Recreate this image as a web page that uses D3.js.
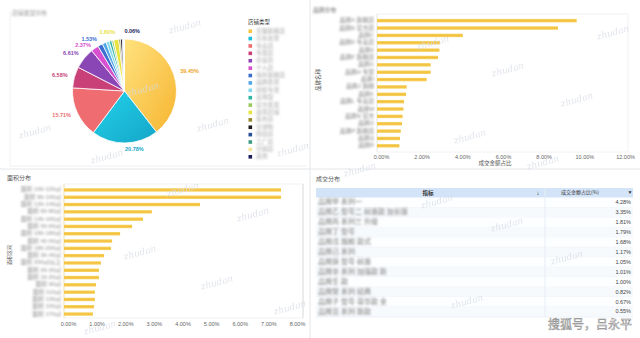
<!DOCTYPE html>
<html><head><meta charset="utf-8">
<script src="https://cdn.jsdelivr.net/npm/d3@7/dist/d3.min.js"></script>
<style>
html,body{margin:0;padding:0;background:#fff;}
svg{display:block;font-family:"Liberation Sans","Noto Sans CJK SC",sans-serif;}
</style></head>
<body><svg id="c" width="640" height="338"></svg>
<script>
// ---------- data ----------
const pieNames = ["天猫旗舰店","京东自营","专卖店","专营店","企业店","个人店","海外旗舰店","品牌直营","授权专营","卖场型","官方直营","自营店铺","集市店","全球购","跨境店","工厂店","分销店","其他"];
const pieValues = [39.45,20.78,15.71,6.58,6.61,2.37,1.53,1.2,1.0,0.8,0.6,1.60,0.5,0.6,0.3,0.2,0.1,0.06];
const pieColors = ["#f9c43f","#1bbcd8","#ef6c70","#c93f78","#8b46b5","#d850cf","#3c6fd0","#4fa7e6","#82d8ea","#2cb4a4","#9ac95a","#e9e33e","#9a8a2e","#1c1c1c","#274f98","#3f9c86","#f4e49a","#1d1f5c"];
const pieLabelShown = [1,1,1,1,1,1,1,0,0,0,0,1,0,0,0,0,0,1];

const topCats = ["品牌A 旗舰店","品牌B 官方店","品牌C","品牌D 专卖店","品牌E","品牌F 旗舰店","品牌G","品牌H 专营","品牌I","品牌J 旗舰","品牌K","品牌L 专卖店","品牌M","品牌N 官方","品牌O","品牌P 旗舰店","品牌Q","品牌R"];
const topValues = [9.82,8.90,4.22,3.10,3.07,3.00,2.64,2.64,2.44,1.46,1.43,1.33,1.30,1.26,1.23,1.17,1.13,1.10];
const topTicks = [0,2,4,6,8,10,12];

const botCats = ["面积 100-120㎡","面积 80-100㎡","面积 120-140㎡","面积 60-80㎡","面积 140-160㎡","面积 50-60㎡","面积 160-180㎡","面积 40-50㎡","面积 180-200㎡","面积 30-40㎡","面积 200㎡以上","面积 20-30㎡","面积 10-20㎡","面积 90㎡","面积 110㎡","面积 130㎡","面积 150㎡","面积 170㎡"];
const botValues = [7.58,7.58,4.75,3.07,2.76,2.38,1.96,1.68,1.64,1.40,1.29,1.22,1.22,1.12,1.08,1.08,1.05,1.01];
const botTicks = [0,1,2,3,4,5,6,7,8];

const tableNames = ["品牌甲 系列一","品牌乙 型号二 标准款 加长版","品牌丙 系列三 升级","品牌丁 型号","品牌戊 旗舰 款式","品牌己 系列","品牌庚 型号 标准","品牌辛 系列 加强款 新","品牌壬 款","品牌癸 系列 经典","品牌子 型号 豪华款 全","品牌丑 系列 新款"];
const tableValues = [4.28,3.35,1.81,1.79,1.68,1.17,1.05,1.01,1.00,0.82,0.67,0.55];

// ---------- setup ----------
const svg = d3.select("#c");
const defs = svg.append("defs");
defs.append("filter").attr("id","blur").attr("x","-20%").attr("y","-50%").attr("width","140%").attr("height","200%")
  .append("feGaussianBlur").attr("stdDeviation",1.3);
const g1 = defs.append("linearGradient").attr("id","gY").attr("x1","0").attr("y1","0").attr("x2","1").attr("y2","1");
g1.append("stop").attr("offset","0").attr("stop-color","#ffe27e");
g1.append("stop").attr("offset","1").attr("stop-color","#f6b531");
const g2 = defs.append("linearGradient").attr("id","gC").attr("x1","0").attr("y1","0").attr("x2","1").attr("y2","1");
g2.append("stop").attr("offset","0").attr("stop-color","#22d3ea");
g2.append("stop").attr("offset","1").attr("stop-color","#15a5c8");
const gb = defs.append("linearGradient").attr("id","gBar").attr("x1","0").attr("y1","0").attr("x2","0").attr("y2","1");
gb.append("stop").attr("offset","0").attr("stop-color","#f8d66a");
gb.append("stop").attr("offset","0.5").attr("stop-color","#f2bf3a");
gb.append("stop").attr("offset","1").attr("stop-color","#f8d66a");

svg.append("rect").attr("width",640).attr("height",338).attr("fill","#fff");

// panel dividers
svg.append("line").attr("x1",310).attr("x2",310).attr("y1",0).attr("y2",338).attr("stroke","#e4e6ea");
svg.append("line").attr("x1",0).attr("x2",640).attr("y1",169).attr("y2",169).attr("stroke","#e4e6ea");
svg.append("line").attr("x1",10).attr("x2",10).attr("y1",12).attr("y2",166).attr("stroke","#f0f1f3");
svg.append("line").attr("x1",10).attr("x2",306).attr("y1",166).attr("y2",166).attr("stroke","#eef0f2");

// blurred (mosaic-like) text helper
function blurText(sel, x, y, txt, opts={}) {
  return sel.append("text").attr("x",x).attr("y",y).text(txt)
    .attr("font-size",opts.size||5.8).attr("fill",opts.fill||"#9a9a9a")
    .attr("text-anchor",opts.anchor||"start").attr("dominant-baseline","middle")
    .attr("font-family","Liberation Sans, Noto Sans CJK SC").attr("font-weight",700)
    .attr("filter","url(#blur)");
}

// ---------- panel titles ----------
blurText(svg,12,13,"店铺类型分布",{size:5.8,fill:"#b8b8b8"});
blurText(svg,313,10,"品牌分布",{size:5.8,fill:"#9a9a9a"});
svg.append("text").attr("x",7).attr("y",178).text("面积分布").attr("font-size",6).attr("fill","#555")
  .attr("font-family","Noto Sans CJK SC").attr("dominant-baseline","middle");
svg.append("text").attr("x",316).attr("y",179).text("成交分布").attr("font-size",6).attr("fill","#555")
  .attr("font-family","Noto Sans CJK SC").attr("dominant-baseline","middle");

// ---------- pie ----------
const cx=124.5, cy=91, R=52;
const pie = d3.pie().sort(null).value(d=>d)(pieValues);
const arc = d3.arc().innerRadius(0).outerRadius(R);
const pg = svg.append("g").attr("transform",`translate(${cx},${cy})`);
pg.selectAll("path").data(pie).join("path")
  .attr("d",arc)
  .attr("fill",(d,i)=> i===0?"url(#gY)": i===1?"url(#gC)": pieColors[i])
  .attr("stroke","#fff").attr("stroke-width",0.8);
const labelArc = d3.arc().innerRadius(R+7).outerRadius(R+7);
const labelColors = pieColors.map((c,i)=> i===0?"#f0a62a": i===1?"#17a7c6": c);
const labs = pie.filter((d,i)=>pieLabelShown[i]).map(d=>{
  const [x,y]=labelArc.centroid(d);
  return {d, x, y, left: x < -0.6};
});
// simple overlap avoidance for left-side labels (top to bottom)
const leftLabs = labs.filter(l=>l.left).sort((a,b)=>a.y-b.y);
for (let k=1;k<leftLabs.length;k++) leftLabs[k].y = Math.max(leftLabs[k].y, leftLabs[k-1].y+6.5);
pg.selectAll("text").data(labs).join("text")
  .attr("x",l=>l.x).attr("y",l=>l.y)
  .attr("text-anchor",l=>l.left?"end":"start")
  .attr("dominant-baseline","middle")
  .attr("font-size",5.5).attr("font-weight",700)
  .attr("fill",l=>labelColors[l.d.index])
  .text(l=>d3.format(".2f")(l.d.data)+"%");

// legend
svg.append("text").attr("x",248).attr("y",22).text("店铺类型").attr("font-size",5.5).attr("fill","#333")
  .attr("font-family","Noto Sans CJK SC").attr("dominant-baseline","middle");
const leg = d3.scaleBand().domain(d3.range(pieNames.length)).range([27.5,160.5]);
const lg = svg.append("g");
pieNames.forEach((n,i)=>{
  const y = leg(i)+leg.bandwidth()/2;
  lg.append("rect").attr("x",248.5).attr("y",y-1.8).attr("width",3.6).attr("height",3.6).attr("fill",pieColors[i]);
  blurText(lg,256,y,n,{fill:"#c4c4c4"});
});

// ---------- top-right bar ----------
const xT = d3.scaleLinear().domain([0,12]).range([377,621]);
const yT = d3.scaleBand().domain(topCats).range([17,149.5]).paddingInner(0.52).paddingOuter(0.26);
const tr = svg.append("g");
tr.append("rect").attr("x",377).attr("y",14).attr("width",251).attr("height",138).attr("fill","none").attr("stroke","#f2f2f2");
tr.append("line").attr("x1",377).attr("x2",377).attr("y1",14).attr("y2",152).attr("stroke","#ececec");
tr.selectAll("rect.bar").data(topValues).join("rect").attr("class","bar")
  .attr("x",xT(0)).attr("y",(d,i)=>yT(topCats[i])).attr("height",yT.bandwidth())
  .attr("width",d=>xT(d)-xT(0)).attr("fill","url(#gBar)");
topCats.forEach((c,i)=> blurText(tr,374,yT(c)+yT.bandwidth()/2,c,{anchor:"end",fill:"#a9a9a9"}));
const axT = d3.axisBottom(xT).tickValues(topTicks).tickFormat(d=>d3.format(".2f")(d)+"%").tickSize(0);
const axTg = tr.append("g").attr("transform","translate(4,153)").call(axT);
axTg.select(".domain").remove();
axTg.selectAll("text").attr("font-size",5.5).attr("fill","#666").attr("dy","0.5em");
tr.append("text").attr("x",495).attr("y",163).attr("text-anchor","middle").attr("dominant-baseline","middle")
  .attr("font-size",5.5).attr("fill","#555").attr("font-family","Noto Sans CJK SC").text("成交金额占比");
tr.append("text").attr("transform","translate(318,80) rotate(-90)").attr("text-anchor","middle").attr("dominant-baseline","middle")
  .attr("font-size",5.5).attr("fill","#555").attr("font-family","Noto Sans CJK SC").text("品牌名称");

// ---------- bottom-left bar ----------
const xB = d3.scaleLinear().domain([0,8]).range([64,293]);
const yB = d3.scaleBand().domain(botCats).range([186.3,317.7]).paddingInner(0.52).paddingOuter(0.26);
const bl = svg.append("g");
bl.append("rect").attr("x",64).attr("y",184).attr("width",239).attr("height",134).attr("fill","none").attr("stroke","#f2f2f2");
bl.append("line").attr("x1",64).attr("x2",64).attr("y1",184).attr("y2",318).attr("stroke","#f4e6b8");
bl.append("line").attr("x1",303).attr("x2",303).attr("y1",184).attr("y2",318).attr("stroke","#dedede");
bl.selectAll("rect.bar").data(botValues).join("rect").attr("class","bar")
  .attr("x",xB(0)).attr("y",(d,i)=>yB(botCats[i])).attr("height",yB.bandwidth())
  .attr("width",d=>xB(d)-xB(0)).attr("fill","url(#gBar)");
botCats.forEach((c,i)=> blurText(bl,61,yB(c)+yB.bandwidth()/2,c,{anchor:"end",fill:"#b0b0b0"}));
const axB = d3.axisBottom(xB).tickValues(botTicks).tickFormat(d=>d3.format(".2f")(d)+"%").tickSize(0);
const axBg = bl.append("g").attr("transform","translate(4,320)").call(axB);
axBg.select(".domain").remove();
axBg.selectAll("text").attr("font-size",5.5).attr("fill","#666").attr("dy","0.5em");
bl.append("text").attr("transform","translate(10,255) rotate(-90)").attr("text-anchor","middle").attr("dominant-baseline","middle")
  .attr("font-size",5).attr("fill","#555").attr("font-family","Noto Sans CJK SC").text("面积区间");

// ---------- bottom-right table ----------
const tb = svg.append("g");
const yR = d3.scaleBand().domain(d3.range(tableValues.length)).range([197.5,317]);
tb.append("rect").attr("x",316).attr("y",188).attr("width",317).attr("height",10).attr("fill","#d3e4f8");
tableValues.forEach((v,i)=>{
  const y=yR(i);
  tb.append("rect").attr("x",316).attr("y",y).attr("width",317).attr("height",yR.bandwidth())
    .attr("fill", i%2? "#f7fafd":"#fdfeff");
  tb.append("line").attr("x1",316).attr("x2",633).attr("y1",y+yR.bandwidth()).attr("y2",y+yR.bandwidth()).attr("stroke","#eef2f7");
  tb.append("text").attr("x",631).attr("y",y+yR.bandwidth()/2).attr("text-anchor","end").attr("dominant-baseline","middle")
    .attr("font-size",5.5).attr("fill","#444").text(d3.format(".2f")(v)+"%");
  blurText(tb,318,y+yR.bandwidth()/2,tableNames[i],{size:7,fill:"#a4a4a4"});
});
tb.append("line").attr("x1",545).attr("x2",545).attr("y1",188).attr("y2",317).attr("stroke","#e6edf5");
tb.append("text").attr("x",428).attr("y",193).attr("text-anchor","middle").attr("dominant-baseline","middle")
  .attr("font-size",5.5).attr("font-weight",700).attr("fill","#333").attr("font-family","Noto Sans CJK SC").text("指标");
tb.append("text").attr("x",538).attr("y",193).attr("text-anchor","middle").attr("dominant-baseline","middle")
  .attr("font-size",6).attr("fill","#333").text("↓");
tb.append("text").attr("x",580).attr("y",193).attr("text-anchor","middle").attr("dominant-baseline","middle")
  .attr("font-size",5).attr("fill","#333").attr("font-family","Noto Sans CJK SC").text("成交金额占比(%)");
tb.append("text").attr("x",630).attr("y",193).attr("text-anchor","middle").attr("dominant-baseline","middle")
  .attr("font-size",5).attr("fill","#333").text("▼");

// ---------- watermarks ----------
const marks = [[185,27],[35,132],[107,157],[213,125],[143,90],[293,150],[508,70],[613,33],[577,100],[470,137],[433,43],[543,163],[183,190],[253,215],[140,253],[217,283],[290,308],[100,328],[360,170],[437,202],[507,225],[567,258],[467,302]];
svg.append("g").selectAll("text").data(marks).join("text")
  .attr("transform",d=>`translate(${d[0]},${d[1]}) rotate(-15)`)
  .attr("text-anchor","middle").attr("dominant-baseline","middle")
  .attr("font-size",9).attr("font-style","italic").attr("fill","#d6dbe4").attr("opacity",0.75)
  .attr("font-family","DejaVu Serif").text("zhudan");

svg.append("text").attr("x",590).attr("y",326).attr("text-anchor","middle").attr("dominant-baseline","middle")
  .attr("font-size",12).attr("fill","#fff").attr("stroke","#888").attr("stroke-width",0.5)
  .attr("font-family","Noto Sans CJK SC").text("搜狐号，吕永平");
</script></body></html>
